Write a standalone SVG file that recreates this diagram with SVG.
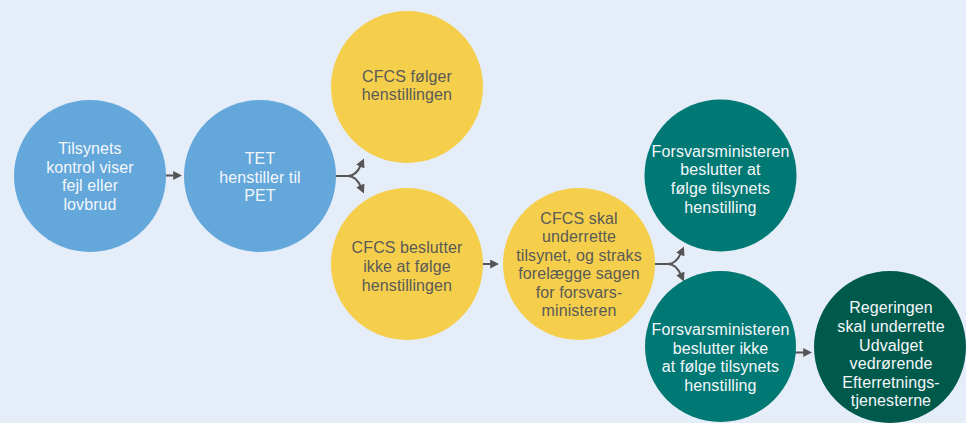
<svg xmlns="http://www.w3.org/2000/svg" width="966" height="423" viewBox="0 0 966 423">
<defs>
<style>
.bg{fill:#E5EDF9}
.blue{fill:#63A7DB}
.yellow{fill:#F5CF4B}
.teal{fill:#007873}
.dark{fill:#005A4B}
text{font-family:"Liberation Sans",Arial,sans-serif;font-size:16px;letter-spacing:0.1px;text-anchor:middle}
.lt{fill:#F4F7FB}
.dk{fill:#5A5A58}
.con{fill:none;stroke:#555555;stroke-width:2}
</style>
<marker id="ah" viewBox="0 0 10 10" refX="2" refY="5" markerWidth="4.5" markerHeight="4.5" orient="auto" markerUnits="strokeWidth">
<path d="M0,0 L10,5 L0,10 Z" fill="#555555"/>
</marker>
</defs>
<rect class="bg" x="0" y="0" width="966" height="423"/>
<g id="connectors">
<path class="con" d="M165,175.5 H175" marker-end="url(#ah)"/>
<path class="con" d="M335,176 H348 Q356,176 361,165" marker-end="url(#ah)"/>
<path class="con" d="M335,176 H348 Q356,176 361,187" marker-end="url(#ah)"/>
<path class="con" d="M482,264 H492" marker-end="url(#ah)"/>
<path class="con" d="M655,264 H668 Q676,264 681,253" marker-end="url(#ah)"/>
<path class="con" d="M655,264 H668 Q676,264 681,275" marker-end="url(#ah)"/>
<path class="con" d="M795,352.5 H805" marker-end="url(#ah)"/>
</g>
<g id="n1">
<circle class="blue" cx="90" cy="176" r="76"/>
<text class="lt"><tspan x="90" y="154">Tilsynets</tspan><tspan x="90" y="172.7">kontrol viser</tspan><tspan x="90" y="191.4">fejl eller</tspan><tspan x="90" y="210">lovbrud</tspan></text>
</g>
<g id="n2">
<circle class="blue" cx="260" cy="176" r="76"/>
<text class="lt"><tspan x="260" y="164">TET</tspan><tspan x="260" y="182.7">henstiller til</tspan><tspan x="260" y="201.4">PET</tspan></text>
</g>
<g id="n3">
<circle class="yellow" cx="407" cy="87" r="76"/>
<text class="dk"><tspan x="407" y="81.5">CFCS følger</tspan><tspan x="407" y="100.2">henstillingen</tspan></text>
</g>
<g id="n4">
<circle class="yellow" cx="407" cy="264" r="76"/>
<text class="dk"><tspan x="407" y="253.3">CFCS beslutter</tspan><tspan x="407" y="272">ikke at følge</tspan><tspan x="407" y="290.7">henstillingen</tspan></text>
</g>
<g id="n5">
<circle class="yellow" cx="579" cy="264" r="76"/>
<text class="dk"><tspan x="579" y="223.5">CFCS skal</tspan><tspan x="579" y="242">underrette</tspan><tspan x="579" y="260.6">tilsynet, og straks</tspan><tspan x="579" y="279.2">forelægge sagen</tspan><tspan x="579" y="297.8">for forsvars-</tspan><tspan x="579" y="316.4">ministeren</tspan></text>
</g>
<g id="n6">
<circle class="teal" cx="720.5" cy="175.5" r="76"/>
<text class="lt"><tspan x="720.5" y="156.5">Forsvarsministeren</tspan><tspan x="720.5" y="175.2">beslutter at</tspan><tspan x="720.5" y="193.9">følge tilsynets</tspan><tspan x="720.5" y="212.6">henstilling</tspan></text>
</g>
<g id="n7">
<circle class="teal" cx="720.5" cy="346.5" r="75.5"/>
<text class="lt"><tspan x="720.5" y="335">Forsvarsministeren</tspan><tspan x="720.5" y="353.7">beslutter ikke</tspan><tspan x="720.5" y="372.4">at følge tilsynets</tspan><tspan x="720.5" y="391.1">henstilling</tspan></text>
</g>
<g id="n8">
<circle class="dark" cx="890" cy="347" r="76"/>
<text class="lt"><tspan x="891" y="313.3">Regeringen</tspan><tspan x="891" y="331.9">skal underrette</tspan><tspan x="891" y="350.5">Udvalget</tspan><tspan x="891" y="369.1">vedrørende</tspan><tspan x="891" y="387.7">Efterretnings-</tspan><tspan x="891" y="406.3">tjenesterne</tspan></text>
</g>
</svg>
